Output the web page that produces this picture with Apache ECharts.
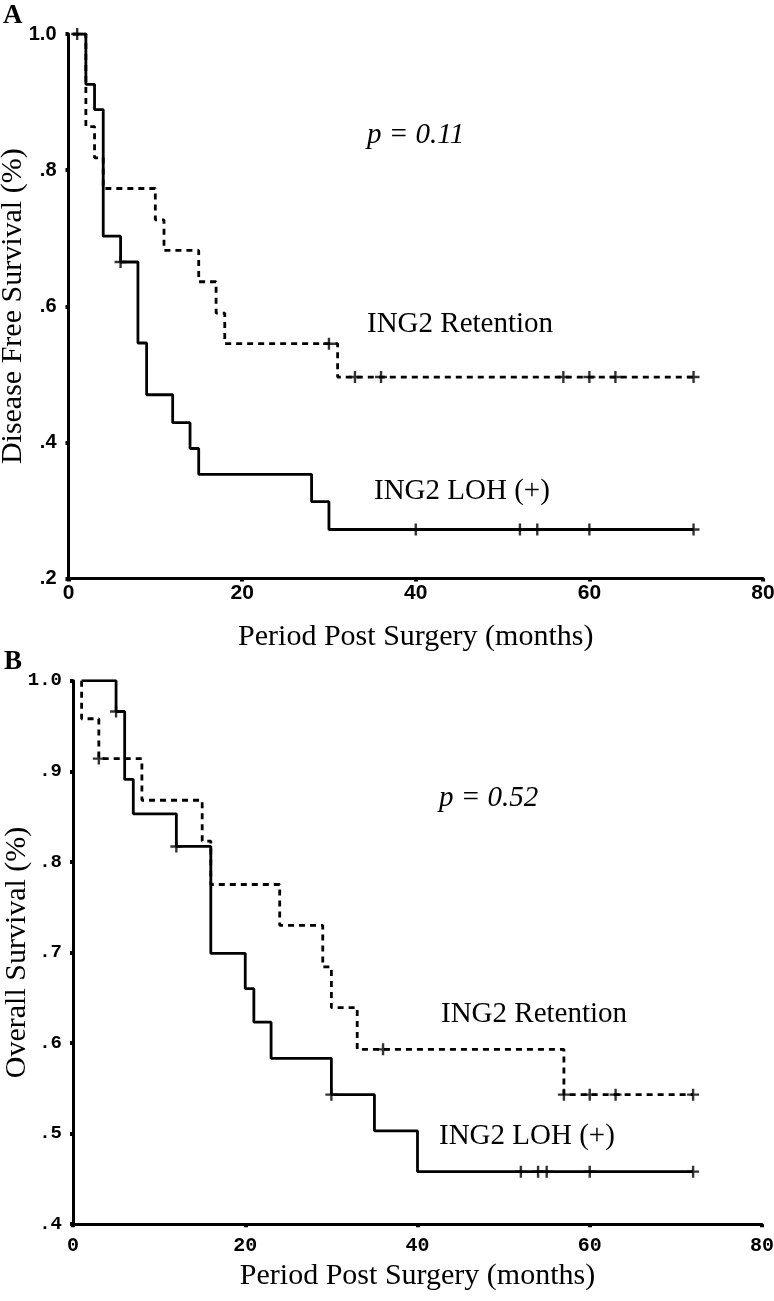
<!DOCTYPE html>
<html>
<head>
<meta charset="utf-8">
<script src="https://cdn.jsdelivr.net/npm/echarts@6/dist/echarts.min.js"></script>
<style>
html,body{margin:0;padding:0;background:#fff;}
#chart{width:774px;height:1301px;}
</style>
</head>
<body>
<div id="chart"></div>
<script>
// ---------- Panel A: Disease free survival ----------
var aLohTimes = [0.5, 2, 3, 4, 6, 8, 9, 12, 14, 15, 28, 30];
var aLohSurv  = [1.0, 0.926, 0.889, 0.703, 0.665, 0.546, 0.470, 0.429, 0.391, 0.353, 0.313, 0.272];
var aLohCensor = [6, 40, 52, 54, 60, 72];

var aRetTimes = [0.5, 2, 3, 4, 10, 11, 15, 17, 18, 31];
var aRetSurv  = [1.0, 0.864, 0.818, 0.773, 0.727, 0.682, 0.636, 0.590, 0.545, 0.496];
var aRetCensor = [1, 30, 33, 36, 57, 60, 63, 72];

// ---------- Panel B: Overall survival ----------
var bLohTimes = [1, 5, 6, 7, 12, 16, 20, 21, 23, 30, 35, 40];
var bLohSurv  = [1.0, 0.966, 0.891, 0.853, 0.817, 0.699, 0.660, 0.623, 0.583, 0.543, 0.503, 0.458];
var bLohCensor = [5, 12, 30, 52, 54, 55, 60, 72];

var bRetTimes = [1, 1, 3, 8, 15, 16, 24, 29, 30, 33, 57];
var bRetSurv  = [1.0, 0.958, 0.914, 0.868, 0.823, 0.775, 0.730, 0.684, 0.639, 0.593, 0.543];
var bRetCensor = [3, 36, 57, 60, 63, 72];

var xTicksA = [0, 20, 40, 60, 80];

function survAt(times, surv, t) {
  var v = surv[0];
  for (var i = 0; i < times.length; i++) { if (times[i] <= t) v = surv[i]; }
  return v;
}
function curve(times, surv, censor) {
  var pts = times.map(function (t, i) { return [t, surv[i]]; });
  var end = censor[censor.length - 1];
  pts.push([end, survAt(times, surv, end)]);
  return pts;
}
function censorPts(times, surv, censor) {
  return censor.map(function (t) { return [t, survAt(times, surv, t)]; });
}

var PLUS = 'path://M-1,-5 L1,-5 L1,5 L-1,5 Z M-5,-1 L5,-1 L5,1 L-5,1 Z';
var SERIF = '"Liberation Serif", "Times New Roman", serif';
var SANS = '"Liberation Sans", Arial, sans-serif';
var MONO = '"Liberation Mono", "DejaVu Sans Mono", monospace';

function lineSeries(name, xi, data, dashed) {
  return {
    name: name, type: 'line', xAxisIndex: xi, yAxisIndex: xi, step: 'end',
    data: data, showSymbol: false, symbol: 'none', silent: true,
    lineStyle: { color: '#000', width: 2.8, type: dashed ? [6, 5] : 'solid', cap: 'butt' },
    z: dashed ? 2 : 3
  };
}
function censorSeries(name, xi, data) {
  return {
    name: name, type: 'scatter', xAxisIndex: xi, yAxisIndex: xi,
    data: data, symbol: PLUS, symbolSize: 12, symbolKeepAspect: true,
    itemStyle: { color: '#000' }, silent: true, z: 4
  };
}

var axisLineStyle = { lineStyle: { color: '#000', width: 3 } };
var axisTickStyle = { show: true, length: 3, lineStyle: { color: '#000', width: 4 } };

var option = {
  backgroundColor: '#fff',
  animation: false,
  grid: [
    { left: 68.5, top: 34, width: 694.5, height: 544.5, containLabel: false, outerBoundsMode: 'none' },
    { left: 73, top: 680.7, width: 689, height: 543.5, containLabel: false, outerBoundsMode: 'none' }
  ],
  xAxis: [
    {
      gridIndex: 0, type: 'value', min: xTicksA[0], max: xTicksA[xTicksA.length - 1], interval: 20,
      splitLine: { show: false }, axisLine: axisLineStyle, axisTick: axisTickStyle,
      axisLabel: { color: '#000', fontFamily: SANS, fontWeight: 'bold', fontSize: 21, margin: 4 },
      name: 'Period Post Surgery (months)', nameLocation: 'middle', nameGap: 44, nameMoveOverlap: false,
      nameTextStyle: { color: '#000', fontFamily: SERIF, fontSize: 30 }
    },
    {
      gridIndex: 1, type: 'value', min: 0, max: 80, interval: 20,
      splitLine: { show: false }, axisLine: axisLineStyle, axisTick: axisTickStyle,
      axisLabel: { color: '#000', fontFamily: MONO, fontWeight: 'bold', fontSize: 20, margin: 12 },
      name: 'Period Post Surgery (months)', nameLocation: 'middle', nameGap: 37, nameMoveOverlap: false,
      nameTextStyle: { color: '#000', fontFamily: SERIF, fontSize: 30 }
    }
  ],
  yAxis: [
    {
      gridIndex: 0, type: 'value', min: 0.2, max: 1.0, interval: 0.2,
      splitLine: { show: false }, axisLine: axisLineStyle, axisTick: axisTickStyle,
      axisLabel: {
        color: '#000', fontFamily: SANS, fontWeight: 'bold', fontSize: 20, margin: 12,
        formatter: function (v) { return v > 0.999 ? '1.0' : '.' + Math.round(v * 10); }
      },
      name: 'Disease Free Survival (%)', nameLocation: 'middle', nameGap: 40, nameMoveOverlap: false,
      nameTextStyle: { color: '#000', fontFamily: SERIF, fontSize: 30 }
    },
    {
      gridIndex: 1, type: 'value', min: 0.4, max: 1.0, interval: 0.1,
      splitLine: { show: false }, axisLine: axisLineStyle, axisTick: axisTickStyle,
      axisLabel: {
        color: '#000', fontFamily: MONO, fontWeight: 'bold', fontSize: 19, margin: 11,
        formatter: function (v) { return v > 0.999 ? '1.0' : '.' + Math.round(v * 10); }
      },
      name: 'Overall Survival (%)', nameLocation: 'middle', nameGap: 41, nameMoveOverlap: false,
      nameTextStyle: { color: '#000', fontFamily: SERIF, fontSize: 30 }
    }
  ],
  series: [
    lineSeries('ING2 Retention', 0, curve(aRetTimes, aRetSurv, aRetCensor), true),
    lineSeries('ING2 LOH (+)', 0, curve(aLohTimes, aLohSurv, aLohCensor), false),
    censorSeries('ING2 Retention censored', 0, censorPts(aRetTimes, aRetSurv, aRetCensor)),
    censorSeries('ING2 LOH (+) censored', 0, censorPts(aLohTimes, aLohSurv, aLohCensor)),
    lineSeries('ING2 Retention', 1, curve(bRetTimes, bRetSurv, bRetCensor), true),
    lineSeries('ING2 LOH (+)', 1, curve(bLohTimes, bLohSurv, bLohCensor), false),
    censorSeries('ING2 Retention censored', 1, censorPts(bRetTimes, bRetSurv, bRetCensor)),
    censorSeries('ING2 LOH (+) censored', 1, censorPts(bLohTimes, bLohSurv, bLohCensor))
  ],
  graphic: [
    { type: 'text', left: 3, top: 3, style: { text: 'A', fill: '#000', font: 'bold 27px ' + SERIF } },
    { type: 'text', left: 4, top: 649, style: { text: 'B', fill: '#000', font: 'bold 27px ' + SERIF } },
    { type: 'text', x: 367, y: 135, style: { text: 'p = 0.11', fill: '#000', font: 'italic 29px ' + SERIF, verticalAlign: 'middle' } },
    { type: 'text', x: 439, y: 798, style: { text: 'p = 0.52', fill: '#000', font: 'italic 29px ' + SERIF, verticalAlign: 'middle' } },
    { type: 'text', x: 367, y: 324, style: { text: 'ING2 Retention', fill: '#000', font: '29px ' + SERIF, verticalAlign: 'middle' } },
    { type: 'text', x: 374, y: 491, style: { text: 'ING2 LOH (+)', fill: '#000', font: '29px ' + SERIF, verticalAlign: 'middle' } },
    { type: 'text', x: 441, y: 1014, style: { text: 'ING2 Retention', fill: '#000', font: '29px ' + SERIF, verticalAlign: 'middle' } },
    { type: 'text', x: 439, y: 1136, style: { text: 'ING2 LOH (+)', fill: '#000', font: '29px ' + SERIF, verticalAlign: 'middle' } }
  ]
};

var chart = echarts.init(document.getElementById('chart'), null, { renderer: 'canvas' });
chart.setOption(option);
</script>
</body>
</html>
